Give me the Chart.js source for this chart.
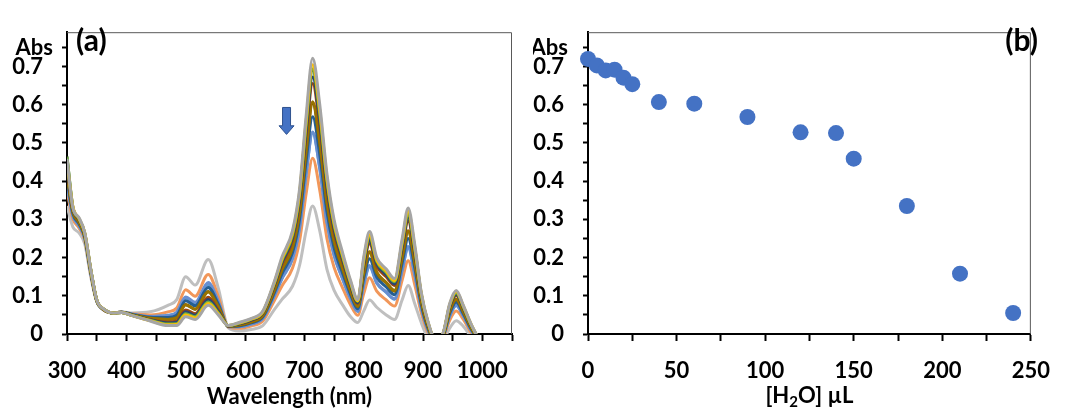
<!DOCTYPE html>
<html>
<head>
<meta charset="utf-8">
<script src="https://cdn.jsdelivr.net/npm/chart.js@4.4.0/dist/chart.umd.min.js"></script>
<style>
    html, body { margin: 0; padding: 0; background: #fff; }
    #wrap { position: relative; width: 1067px; height: 410px; }
    #specChart { position: absolute; left: 0; top: 0; }
    #waterChart { position: absolute; left: 533px; top: 0; }
</style>
</head>
<body>
<div id="wrap">
    <canvas id="specChart" width="533" height="410"></canvas>
    <canvas id="waterChart" width="534" height="410"></canvas>
</div>
<script>
// ---- Panel (a): absorption spectra during the water titration ----
const wavelengthNm = [300, 310, 320, 330, 340, 350, 362, 378, 392, 410, 440, 470, 485, 500, 516, 538, 555, 572, 590, 610,
    630, 650, 662, 680, 692, 703, 714, 726, 738, 750, 765, 778, 790, 800, 810, 822, 838, 852, 865, 875,
    886, 897, 908, 920, 933, 945, 956, 968, 980, 990];

const spec01 = [.458,.330,.305,.265,.170,.090,.065,.055,.056,.048,.034,.022,.022,.045,.038,.075,.050,.022,.030,.040,.060,.140,.200,.270,.380,.570,.722,.600,.420,.300,.210,.140,.090,.200,.268,.200,.170,.145,.250,.330,.235,.110,.035,-.010,.000,.080,.114,.075,.030,-.002];
const spec02 = [.450,.333,.303,.264,.169,.090,.065,.055,.056,.048,.035,.024,.025,.050,.042,.080,.053,.022,.029,.039,.058,.137,.195,.264,.371,.557,.705,.586,.409,.292,.204,.136,.087,.194,.260,.194,.165,.140,.243,.321,.228,.107,.033,-.011,-.001,.077,.111,.073,.029,-.003];
const spec03 = [.462,.331,.302,.263,.169,.090,.065,.055,.056,.048,.036,.026,.027,.053,.045,.084,.055,.022,.028,.038,.057,.135,.192,.259,.365,.548,.694,.576,.402,.287,.200,.133,.086,.190,.255,.191,.161,.137,.238,.315,.224,.104,.032,-.012,-.002,.075,.108,.071,.027,-.003];
const spec04 = [.465,.331,.302,.263,.169,.090,.065,.055,.056,.049,.036,.026,.027,.053,.045,.084,.055,.022,.028,.038,.057,.134,.191,.259,.364,.547,.692,.574,.401,.286,.199,.133,.085,.189,.254,.190,.161,.137,.238,.314,.223,.104,.031,-.012,-.002,.075,.108,.071,.027,-.003];
const spec05 = [.440,.329,.300,.261,.167,.089,.065,.055,.056,.049,.037,.029,.031,.058,.049,.090,.059,.021,.027,.036,.055,.131,.186,.252,.355,.532,.673,.558,.388,.277,.193,.128,.082,.182,.245,.184,.155,.131,.230,.304,.215,.100,.029,-.013,-.003,.072,.104,.068,.026,-.004];
const spec06 = [.435,.326,.298,.260,.167,.089,.064,.055,.056,.049,.038,.031,.034,.063,.053,.096,.062,.021,.026,.035,.054,.127,.181,.245,.346,.519,.656,.544,.377,.268,.187,.124,.080,.176,.237,.178,.150,.127,.223,.295,.209,.096,.027,-.013,-.003,.069,.101,.066,.024,-.005];
const spec07 = [.420,.320,.293,.256,.164,.088,.064,.055,.057,.050,.041,.038,.042,.076,.065,.110,.071,.020,.024,.032,.049,.118,.168,.227,.321,.482,.608,.503,.347,.246,.170,.112,.072,.159,.215,.162,.135,.114,.203,.270,.189,.087,.022,-.016,-.006,.061,.091,.059,.020,-.007];
const spec08 = [.419,.320,.293,.256,.164,.088,.064,.055,.057,.050,.041,.038,.043,.077,.065,.111,.071,.020,.023,.031,.048,.117,.167,.226,.319,.479,.604,.500,.344,.244,.169,.111,.072,.157,.214,.160,.134,.112,.201,.268,.188,.086,.021,-.016,-.006,.060,.090,.058,.019,-.007];
const spec09 = [.408,.315,.289,.253,.162,.088,.064,.055,.057,.051,.044,.043,.049,.087,.074,.122,.078,.020,.021,.029,.045,.110,.157,.213,.301,.452,.569,.470,.321,.227,.157,.103,.066,.145,.197,.149,.123,.103,.187,.250,.174,.078,.017,-.018,-.008,.054,.083,.053,.016,-.009];
const spec10 = [.395,.310,.285,.250,.160,.087,.064,.055,.057,.052,.046,.048,.056,.097,.083,.135,.085,.019,.019,.026,.041,.103,.145,.198,.280,.420,.529,.435,.295,.208,.143,.093,.060,.130,.179,.135,.110,.092,.170,.229,.158,.070,.013,-.020,-.010,.048,.075,.048,.013,-.011];
const spec11 = [.392,.309,.284,.250,.160,.087,.063,.055,.057,.052,.046,.049,.057,.094,.080,.128,.083,.019,.019,.026,.041,.102,.144,.197,.278,.418,.526,.433,.293,.207,.142,.092,.059,.128,.176,.133,.109,.091,.168,.225,.156,.069,.012,-.020,-.010,.047,.074,.047,.012,-.011];
const spec12 = [.374,.301,.278,.245,.156,.087,.063,.055,.057,.053,.050,.058,.068,.116,.099,.156,.098,.018,.015,.021,.034,.089,.125,.172,.244,.367,.460,.376,.251,.175,.119,.076,.049,.105,.147,.112,.089,.073,.142,.192,.130,.056,.005,-.024,-.014,.036,.060,.038,.006,-.014];
const spec13 = [.335,.280,.265,.235,.150,.085,.062,.055,.058,.055,.058,.075,.090,.150,.128,.195,.120,.016,.008,.012,.022,.065,.090,.125,.180,.270,.335,.270,.170,.115,.075,.045,.030,.060,.089,.070,.050,.038,.090,.127,.080,.030,-.010,-.030,-.020,.015,.035,.020,-.005,-.020];

const spectra = [spec01, spec02, spec03, spec04, spec05, spec06, spec07, spec08, spec09, spec10, spec11, spec12, spec13];
const spectraColors = ['#A5A5A5', '#FFC000', '#70AD47', '#43682B', '#264478', '#9E480E', '#997300',
    '#7F6000', '#255E91', '#698ED0', '#5B9BD5', '#F1975A', '#BFBFBF'];

// ---- Panel (b): absorbance at 714 nm vs added water ----
const waterVolumeUl = [0, 5, 10, 15, 20, 25, 40, 60, 90, 120, 140, 150, 180, 210, 240];
const absAt714 = [0.720, 0.703, 0.690, 0.692, 0.671, 0.654, 0.607, 0.603, 0.568, 0.528, 0.526, 0.459, 0.335, 0.158, 0.055];

// arrow marker (data coordinates)
const arrowNm = 670;
const arrowTop = 0.593, arrowNeck = 0.545, arrowTip = 0.5225;

const tickFont = { family: 'Lato', size: 22, weight: 'bold' };

// label only every 0.1, minor ticks every 0.05
function absTickLabel(value) {
    const hundredths = Math.round(value * 100);
    if (hundredths % 10 !== 0) return '';
    return hundredths === 0 ? '0' : (hundredths / 100).toFixed(1);
}

function yAxis(width) {
    return {
        min: 0,
        max: 0.79,
        afterFit: (scale) => { scale.width = width; },
        border: { color: '#000', width: 2 },
        grid: { drawOnChartArea: false, tickLength: 5, tickColor: '#000', tickWidth: 2 },
        ticks: {
            stepSize: 0.05,
            includeBounds: false,
            autoSkip: false,
            padding: 19,
            color: '#000',
            font: tickFont,
            callback: absTickLabel
        }
    };
}

function xAxis(min, max, step, labelEvery) {
    return {
        type: 'linear',
        min: min,
        max: max,
        afterFit: (scale) => { scale.height = 76; },
        border: { color: '#000', width: 2 },
        grid: { drawOnChartArea: false, tickLength: 7, tickColor: '#000', tickWidth: 2 },
        ticks: {
            stepSize: step,
            autoSkip: false,
            maxRotation: 0,
            padding: 17,
            color: '#000',
            font: tickFont,
            callback: (v) => (v % labelEvery === 0 ? String(v) : '')
        }
    };
}

// thin top + right frame of the plot area
const frameBorder = {
    id: 'frameBorder',
    beforeDatasetsDraw(chart) {
        const { ctx, chartArea: a } = chart;
        ctx.save();
        ctx.strokeStyle = '#595959';
        ctx.lineWidth = 1;
        ctx.beginPath();
        ctx.moveTo(a.left, a.top + 0.5);
        ctx.lineTo(a.right - 0.5, a.top + 0.5);
        ctx.lineTo(a.right - 0.5, a.bottom);
        ctx.stroke();
        ctx.restore();
    }
};

function decorations(tag, tagX, tagAlign, absRight) {
    return {
        id: 'decorations',
        afterDraw(chart) {
            const { ctx, scales: { y } } = chart;
            ctx.save();
            ctx.fillStyle = '#000';
            ctx.textBaseline = 'middle';
            ctx.font = 'bold 22px Lato';
            ctx.textAlign = 'right';
            ctx.fillText('Abs', absRight, y.getPixelForValue(0.75));
            ctx.font = 'bold 30px Lato';
            ctx.textAlign = tagAlign;
            ctx.fillText(tag, tagX, 41);
            ctx.restore();
        }
    };
}

const downArrow = {
    id: 'downArrow',
    afterDatasetsDraw(chart) {
        const { ctx, scales: { x, y } } = chart;
        const cx = x.getPixelForValue(arrowNm);
        const top = y.getPixelForValue(arrowTop);
        const neck = y.getPixelForValue(arrowNeck);
        const tip = y.getPixelForValue(arrowTip);
        ctx.save();
        ctx.beginPath();
        ctx.moveTo(cx - 4, top);
        ctx.lineTo(cx + 4, top);
        ctx.lineTo(cx + 4, neck);
        ctx.lineTo(cx + 7.5, neck);
        ctx.lineTo(cx, tip);
        ctx.lineTo(cx - 7.5, neck);
        ctx.lineTo(cx - 4, neck);
        ctx.closePath();
        ctx.fillStyle = '#4472C4';
        ctx.fill();
        ctx.strokeStyle = '#2F528F';
        ctx.lineWidth = 1;
        ctx.stroke();
        ctx.restore();
    }
};

// "[H2O] µL" with a real subscript
const waterTitle = {
    id: 'waterTitle',
    afterDraw(chart) {
        const { ctx, chartArea: a } = chart;
        const parts = [['[H', 22, 0], ['2', 15, 6], ['O] µL', 22, 0]];
        ctx.save();
        ctx.fillStyle = '#000';
        ctx.textBaseline = 'middle';
        ctx.textAlign = 'left';
        let total = 0;
        parts.forEach(p => { ctx.font = 'bold ' + p[1] + 'px Lato'; total += ctx.measureText(p[0]).width; });
        let x = (a.left + a.right) / 2 - total / 2;
        parts.forEach(p => {
            ctx.font = 'bold ' + p[1] + 'px Lato';
            ctx.fillText(p[0], x, 396 + p[2]);
            x += ctx.measureText(p[0]).width;
        });
        ctx.restore();
    }
};

class TitrationFigure {
    init() {
        this.initSpectraChart();
        this.initWaterChart();
    }

    initSpectraChart() {
        const ctx = document.getElementById('specChart');
        const datasets = spectra.map((values, i) => ({
            data: values.map((v, j) => ({ x: wavelengthNm[j], y: v })),
            borderColor: spectraColors[i],
            borderWidth: 3,
            pointRadius: 0,
            fill: false,
            cubicInterpolationMode: 'monotone'
        }));

        const xA = xAxis(300, 1050, 50, 100);
        xA.title = { display: true, text: 'Wavelength (nm)', color: '#000', font: tickFont, padding: { top: 0, bottom: 0 } };

        this.specChart = new Chart(ctx, {
            type: 'line',
            data: { datasets: datasets },
            options: {
                responsive: false,
                animation: false,
                layout: { padding: { left: 0, right: 21, top: 18, bottom: 0 } },
                plugins: { legend: { display: false }, tooltip: { enabled: false } },
                scales: { x: xA, y: yAxis(67) }
            },
            plugins: [frameBorder, downArrow, decorations('(a)', 76, 'left', 53)]
        });
    }

    initWaterChart() {
        const ctx = document.getElementById('waterChart');
        this.waterChart = new Chart(ctx, {
            type: 'scatter',
            data: {
                datasets: [{
                    data: waterVolumeUl.map((v, i) => ({ x: v, y: absAt714[i] })),
                    backgroundColor: '#4472C4',
                    borderWidth: 0,
                    pointRadius: 8,
                    clip: false
                }]
            },
            options: {
                responsive: false,
                animation: false,
                layout: { padding: { left: 0, right: 23, top: 18, bottom: 0 } },
                plugins: { legend: { display: false }, tooltip: { enabled: false } },
                scales: { x: xAxis(0, 250, 25, 50), y: yAxis(55) }
            },
            plugins: [frameBorder, waterTitle, decorations('(b)', 505, 'right', 35)]
        });
    }
}

const figure = new TitrationFigure();
figure.init();
</script>
</body>
</html>
